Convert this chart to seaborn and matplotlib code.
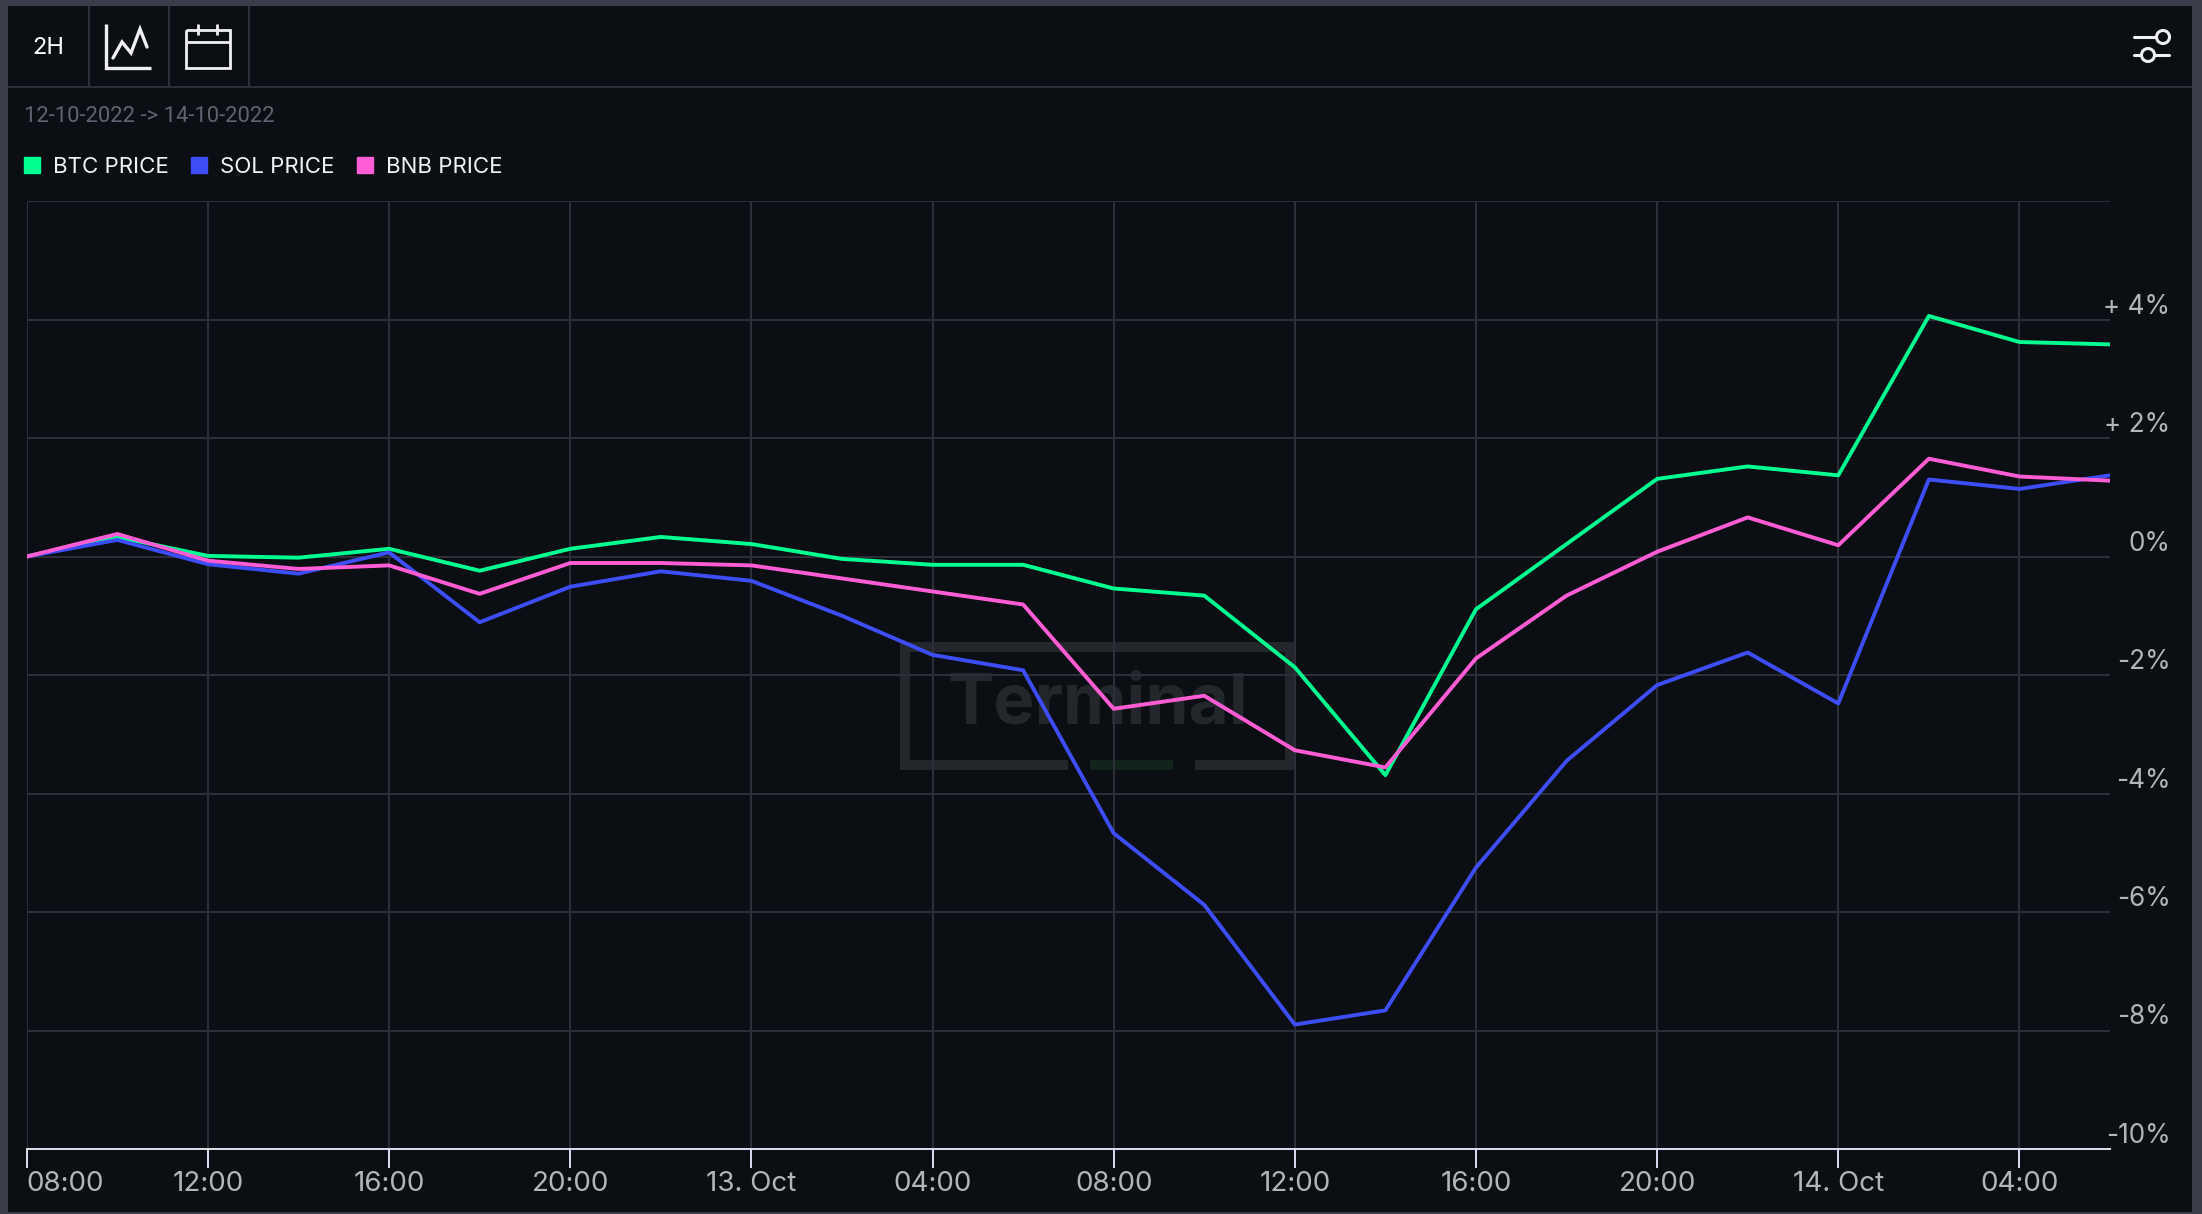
import matplotlib
matplotlib.use("Agg")
import matplotlib.pyplot as plt
import matplotlib.dates as mdates
from matplotlib.lines import Line2D
from matplotlib.patches import Rectangle, Circle, Patch
from matplotlib.ticker import FixedLocator, FixedFormatter
from matplotlib.transforms import IdentityTransform
import pandas as pd
import seaborn as sns

# Percent change per 2-hour candle
times = pd.date_range("2022-10-12 08:00", "2022-10-14 06:00", freq="2h")
btc_price = [0, .33, .01, -.02, .13, -.24, .13, .33, .21, -.04, -.14, -.14,
             -.54, -.66, -1.87, -3.69, -.89, .21, 1.31, 1.52, 1.37, 4.06, 3.62, 3.58]
sol_price = [0, .28, -.13, -.29, .07, -1.11, -.51, -.25, -.41, -1.0, -1.66, -1.92,
             -4.67, -5.88, -7.9, -7.66, -5.25, -3.45, -2.17, -1.62, -2.48, 1.30, 1.14, 1.37]
bnb_price = [0, .38, -.07, -.21, -.15, -.63, -.11, -.11, -.15, -.37, -.59, -.81,
             -2.57, -2.35, -3.27, -3.56, -1.72, -.66, .08, .66, .19, 1.65, 1.35, 1.28]
series_names = ["BTC PRICE", "SOL PRICE", "BNB PRICE"]
series_colors = ["#00FF91", "#3D4DF7", "#FF5CD6"]

x_tick_times = pd.date_range("2022-10-12 08:00", "2022-10-14 04:00", freq="4h")
x_tick_labels = ["08:00", "12:00", "16:00", "20:00", "13. Oct", "04:00", "08:00",
                 "12:00", "16:00", "20:00", "14. Oct", "04:00"]
y_ticks = [-10, -8, -6, -4, -2, 0, 2, 4, 6]
y_tick_labels = ["-10%", "-8%", "-6%", "-4%", "-2%", "0%", "+ 2%", "+ 4%", ""]

FONT = "Inter"
BORDER = "#3A3E4A"
PANEL = "#0B0E13"
GRID = "#2D303C"
TICK_TEXT = "#B4B5B8"
ICON = "#F0F0F2"

W, H = 2202, 1214
sns.set_theme(style="dark", rc={"font.family": FONT})
fig = plt.figure(figsize=(W / 100, H / 100), dpi=100, facecolor=BORDER)


def fx(x):
    return x / W


def fy(y):
    return 1 - y / H


def rect(x0, y0, x1, y1, color, z=-5):
    fig.add_artist(Rectangle((fx(x0), fy(y1)), fx(x1 - x0), (y1 - y0) / H, transform=fig.transFigure,
                             facecolor=color, edgecolor="none", zorder=z))


def stroke(xs, ys, color=ICON, lw=2.2, z=3, cap="butt"):
    fig.add_artist(Line2D([fx(x) for x in xs], [fy(y) for y in ys], transform=fig.transFigure,
                          color=color, lw=lw, zorder=z, solid_capstyle=cap, solid_joinstyle="miter"))


# Panel and toolbar dividers
rect(8, 6, 2192, 1212, PANEL, z=-6)
stroke([8, 2192], [87, 87], color=GRID, lw=1.4, z=-4)
for x in (89, 169, 249):
    stroke([x, x], [6, 87], color=GRID, lw=1.4, z=-4)

# Toolbar: interval label, chart icon, calendar icon, settings icon
fig.text(fx(48), fy(48), "2H", color="white", fontsize=17, family=FONT, ha="center", va="center")
stroke([105.6, 105.6, 151], [24, 68, 68], lw=2.4)
stroke([113, 122, 131, 140, 147], [58, 42, 53, 29, 47], lw=2.4, cap="round")
stroke([186, 230, 230, 186, 186], [30, 30, 68, 68, 30], lw=2)
stroke([186, 230], [42, 42], lw=2)
stroke([198, 198], [24, 35], lw=2)
stroke([217, 217], [24, 35], lw=2)
stroke([2134, 2156], [37, 37], lw=2.2, cap="round")
stroke([2134, 2169], [55, 55], lw=2.2, cap="round")
for cx, cy in ((2163, 37), (2148, 55)):
    fig.add_artist(Circle((cx, H - cy), 6.5, transform=IdentityTransform(), facecolor=PANEL,
                          edgecolor=ICON, lw=2.2, zorder=4))

# Date range caption
fig.text(fx(24), fy(116), "12-10-2022 -> 14-10-2022", color="#5E6470", fontsize=15.8,
         family="Roboto", ha="left", va="center")

# Watermark behind the plot
WM = "#23272B"
rect(900, 642, 1295, 652, WM)
rect(900, 642, 910, 770, WM)
rect(1285, 642, 1295, 770, WM)
rect(900, 760, 1068, 770, WM)
rect(1195, 760, 1295, 770, WM)
rect(1090, 760, 1173, 770, "#12231C")
fig.text(fx(1098), fy(705), "Terminal", color=WM, fontsize=50, fontweight="bold",
         family=FONT, ha="center", va="center", zorder=-4)

# Price chart
left, right, top, bottom = 26.8, 2110, 201, 1149
ax = fig.add_axes([fx(left), fy(bottom), fx(right - left), (bottom - top) / H])
ax.patch.set_alpha(0)

frame = pd.DataFrame({"time": times, series_names[0]: btc_price,
                      series_names[1]: sol_price, series_names[2]: bnb_price})
long_frame = frame.melt("time", var_name="series", value_name="change")
sns.lineplot(data=long_frame, x="time", y="change", hue="series", hue_order=series_names,
             palette=series_colors, lw=2.8, errorbar=None, legend=False, ax=ax, zorder=3)

ax.set_xlim(times[0], times[-1])
ax.set_ylim(-10, 6)
ax.set_xlabel("")
ax.set_ylabel("")
ax.xaxis.set_major_locator(FixedLocator(mdates.date2num(x_tick_times)))
ax.xaxis.set_major_formatter(FixedFormatter(x_tick_labels))
ax.yaxis.tick_right()
ax.yaxis.set_major_locator(FixedLocator(y_ticks))
ax.yaxis.set_major_formatter(FixedFormatter(y_tick_labels))
ax.grid(True, color=GRID, lw=1.4, zorder=1)
for side in ("top", "left", "right"):
    ax.spines[side].set_visible(False)
ax.spines["bottom"].set_color("#D9E0F2")
ax.spines["bottom"].set_linewidth(1.4)
ax.tick_params(axis="x", bottom=True, length=13.5, width=1.4, color="#D9E0F2",
               labelcolor=TICK_TEXT, labelsize=20, pad=2)
ax.tick_params(axis="y", right=False, length=0, pad=43.5, labelcolor=TICK_TEXT, labelsize=18.8)
for label in ax.get_yticklabels():
    label.set_ha("right")
    label.set_va("bottom")
ax.get_xticklabels()[0].set_ha("left")

handles = [Patch(color=c, label=n) for n, c in zip(series_names, series_colors)]
legend = fig.legend(handles=handles, loc="center left", bbox_to_anchor=(fx(24), fy(167)), ncol=3,
                    frameon=False, fontsize=16, labelcolor="#F2F3F6", handlelength=0.72, handleheight=0.72,
                    handletextpad=0.58, columnspacing=1.02, borderpad=0, borderaxespad=0)

fig.savefig("out.png", dpi=100, facecolor=fig.get_facecolor())
